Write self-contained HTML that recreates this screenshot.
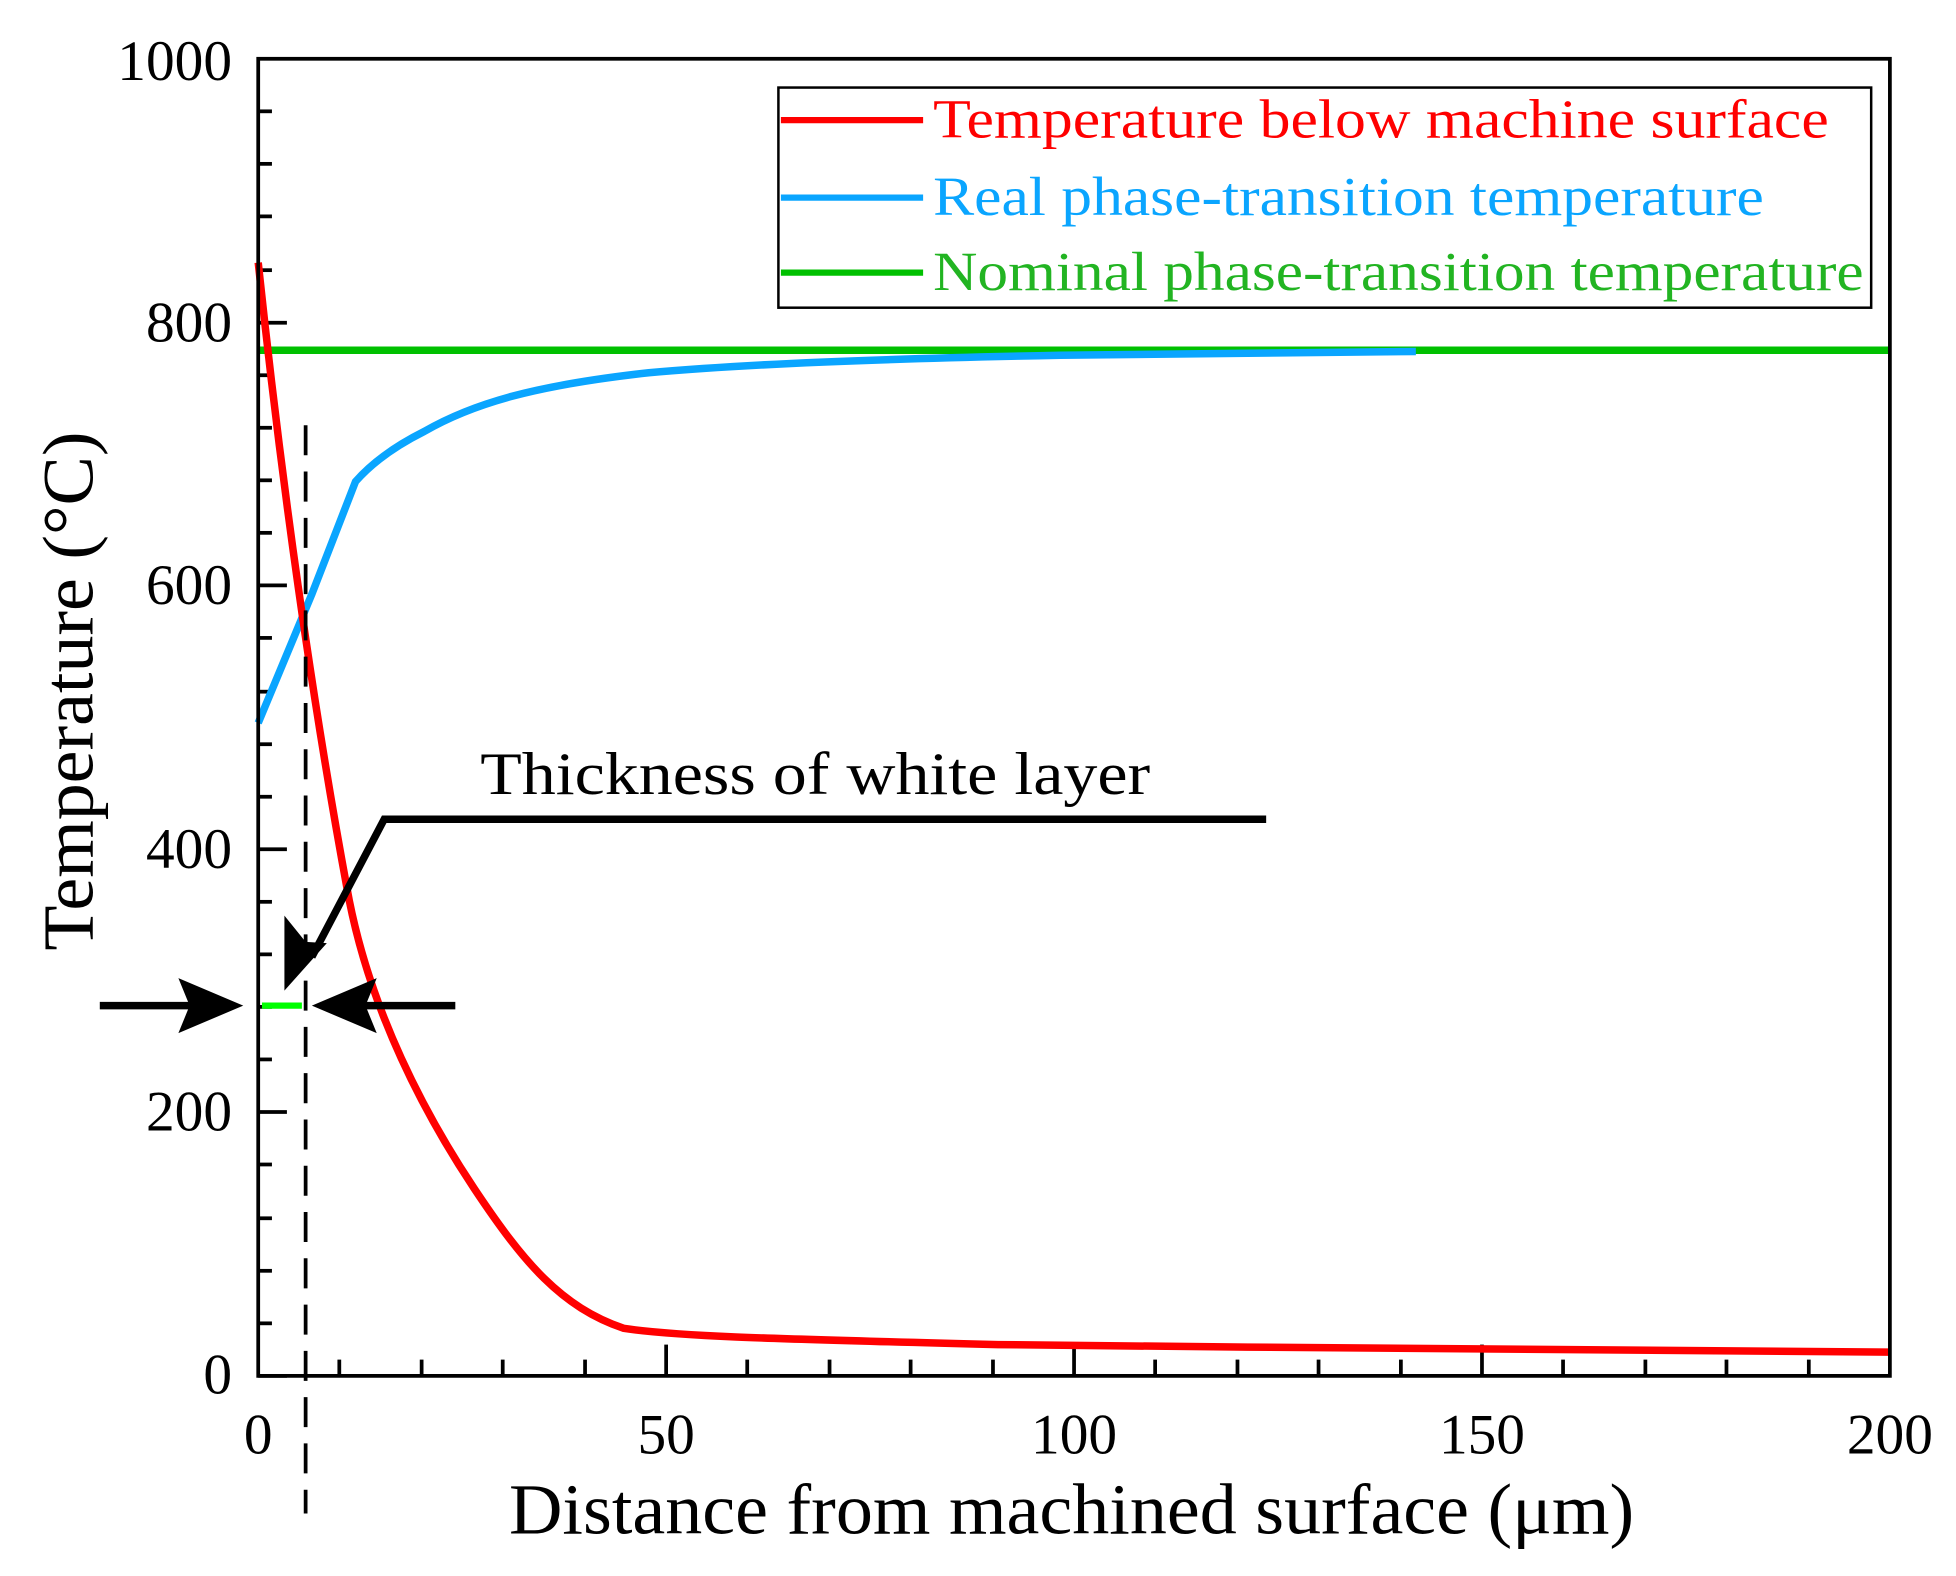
<!DOCTYPE html>
<html><head><meta charset="utf-8"><style>
html,body{margin:0;padding:0;background:#fff;}
svg{display:block;}
text{font-family:"Liberation Serif",serif;}
</style></head><body>
<svg width="1956" height="1576" viewBox="0 0 1568 1260" preserveAspectRatio="none" xmlns="http://www.w3.org/2000/svg">
<rect width="1568" height="1260" fill="#fff"/>
<g stroke="#000" stroke-width="3">
<line x1="207" y1="1100" x2="230" y2="1100"/><line x1="207" y1="889" x2="230" y2="889"/><line x1="207" y1="679" x2="230" y2="679"/><line x1="207" y1="468" x2="230" y2="468"/><line x1="207" y1="258" x2="230" y2="258"/>
<line x1="207" y1="1058" x2="218" y2="1058"/><line x1="207" y1="1016" x2="218" y2="1016"/><line x1="207" y1="974" x2="218" y2="974"/><line x1="207" y1="931" x2="218" y2="931"/>
<line x1="207" y1="847" x2="218" y2="847"/><line x1="207" y1="805" x2="218" y2="805"/><line x1="207" y1="763" x2="218" y2="763"/><line x1="207" y1="721" x2="218" y2="721"/>
<line x1="207" y1="637" x2="218" y2="637"/><line x1="207" y1="595" x2="218" y2="595"/><line x1="207" y1="553" x2="218" y2="553"/><line x1="207" y1="510" x2="218" y2="510"/>
<line x1="207" y1="426" x2="218" y2="426"/><line x1="207" y1="384" x2="218" y2="384"/><line x1="207" y1="342" x2="218" y2="342"/><line x1="207" y1="300" x2="218" y2="300"/>
<line x1="207" y1="216" x2="218" y2="216"/><line x1="207" y1="173" x2="218" y2="173"/><line x1="207" y1="131" x2="218" y2="131"/><line x1="207" y1="89" x2="218" y2="89"/>
<line x1="534" y1="1100" x2="534" y2="1075"/><line x1="861" y1="1100" x2="861" y2="1075"/><line x1="1188" y1="1100" x2="1188" y2="1075"/>
<line x1="272" y1="1100" x2="272" y2="1087"/><line x1="338" y1="1100" x2="338" y2="1087"/><line x1="403" y1="1100" x2="403" y2="1087"/><line x1="469" y1="1100" x2="469" y2="1087"/>
<line x1="599" y1="1100" x2="599" y2="1087"/><line x1="665" y1="1100" x2="665" y2="1087"/><line x1="730" y1="1100" x2="730" y2="1087"/><line x1="796" y1="1100" x2="796" y2="1087"/>
<line x1="926" y1="1100" x2="926" y2="1087"/><line x1="992" y1="1100" x2="992" y2="1087"/><line x1="1057" y1="1100" x2="1057" y2="1087"/><line x1="1123" y1="1100" x2="1123" y2="1087"/>
<line x1="1253" y1="1100" x2="1253" y2="1087"/><line x1="1319" y1="1100" x2="1319" y2="1087"/><line x1="1384" y1="1100" x2="1384" y2="1087"/><line x1="1450" y1="1100" x2="1450" y2="1087"/>
</g>
<polyline fill="none" stroke="#00c000" stroke-width="6" points="207,280 1515,280"/>
<path fill="none" stroke="#0aa5ff" stroke-width="6" d="M207,578 L250,475 L285,385 C300,368 320,355 340,345 C380,322 430,308 520,298 C600,291 700,287 850,284 L1135,281"/>
<path fill="none" stroke="#ff0000" stroke-width="6" d="M207,210 C225,380 250,560 280,720 C298,810 340,890 380,950 C420,1010 450,1045 500,1062 C540,1068 600,1070 800,1075 L1000,1077 L1515,1081"/>
<line x1="245" y1="340" x2="245" y2="1210" stroke="#000" stroke-width="3" stroke-dasharray="24,13"/>
<line x1="210" y1="804" x2="242" y2="804" stroke="#00ff00" stroke-width="5"/>
<line x1="80" y1="804" x2="170" y2="804" stroke="#000" stroke-width="6"/>
<polygon points="195,804 143,782 152,804 143,826" fill="#000"/>
<line x1="365" y1="804" x2="275" y2="804" stroke="#000" stroke-width="6"/>
<polygon points="250,804 302,782 293,804 302,826" fill="#000"/>
<polyline fill="none" stroke="#000" stroke-width="6" points="1015,655 308,655 250,765"/>
<polygon points="228,792 228,732 245,753 262,754" fill="#000"/>
<text x="385" y="635" font-size="48" textLength="537" lengthAdjust="spacingAndGlyphs">Thickness of white layer</text>
<rect x="207" y="47" width="1308" height="1053" fill="none" stroke="#000" stroke-width="3"/>
<rect x="624" y="70" width="876" height="176" fill="#fff" stroke="#000" stroke-width="2"/>
<line x1="626" y1="96" x2="740" y2="96" stroke="#ff0000" stroke-width="5"/>
<line x1="626" y1="158" x2="740" y2="158" stroke="#0aa5ff" stroke-width="5"/>
<line x1="626" y1="218" x2="740" y2="218" stroke="#00c000" stroke-width="5"/>
<text x="748" y="110" font-size="44" fill="#ff0000" textLength="718" lengthAdjust="spacingAndGlyphs">Temperature below machine surface</text>
<text x="748" y="172" font-size="44" fill="#0aa5ff" textLength="666" lengthAdjust="spacingAndGlyphs">Real phase-transition temperature</text>
<text x="748" y="232" font-size="44" fill="#22b422" textLength="746" lengthAdjust="spacingAndGlyphs">Nominal phase-transition temperature</text>
<g font-size="46" text-anchor="end">
<text x="186" y="1114">0</text><text x="186" y="904">200</text><text x="186" y="694">400</text><text x="186" y="483">600</text><text x="186" y="273">800</text><text x="186" y="64">1000</text>
</g>
<g font-size="46" text-anchor="middle">
<text x="207" y="1162">0</text><text x="534" y="1162">50</text><text x="861" y="1162">100</text><text x="1188" y="1162">150</text><text x="1515" y="1162">200</text>
</g>
<text x="408" y="1226" font-size="58" textLength="902" lengthAdjust="spacingAndGlyphs">Distance from machined surface (μm)</text>
<text transform="translate(74,760) rotate(-90)" font-size="58" textLength="415" lengthAdjust="spacingAndGlyphs">Temperature (°C)</text>
</svg>
</body></html>
